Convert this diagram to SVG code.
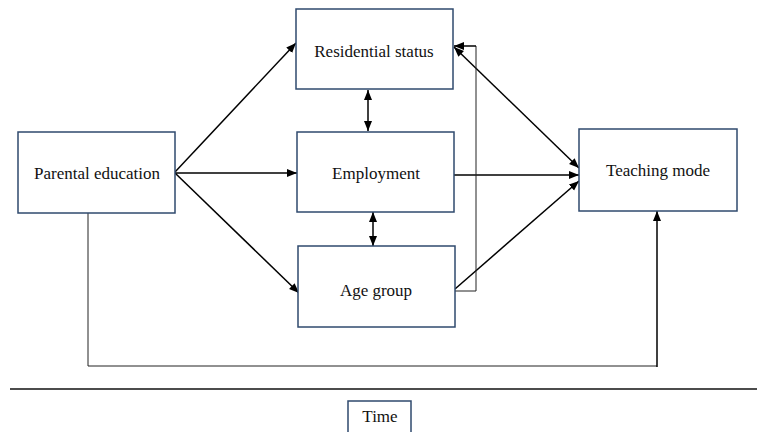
<svg xmlns="http://www.w3.org/2000/svg" width="757" height="432" viewBox="0 0 757 432">
<style>
.box{fill:#fff;stroke:#2f4a6e;stroke-width:1.5}
.lbl{font-family:"Liberation Serif","Times New Roman",serif;font-size:17px;fill:#111;text-anchor:middle}
.arr{stroke:#000;stroke-width:1.5;fill:none}
.thin{stroke:#222;stroke-width:1;fill:none}
</style>
<defs>
<marker id="ah" viewBox="0 0 10 10" refX="10" refY="5" markerWidth="10" markerHeight="10" markerUnits="userSpaceOnUse" orient="auto-start-reverse">
<path d="M0,1 L10,5 L0,9 Z" fill="#000"/>
</marker>
</defs>
<rect width="757" height="432" fill="#fff"/>
<g id="connectors">
<line class="arr" x1="175" y1="172" x2="296" y2="43" marker-end="url(#ah)"/>
<line class="arr" x1="175" y1="173" x2="297" y2="173" marker-end="url(#ah)"/>
<line class="arr" x1="175" y1="173" x2="299" y2="293" marker-end="url(#ah)"/>
<line class="arr" x1="454" y1="47" x2="579" y2="168" marker-start="url(#ah)" marker-end="url(#ah)"/>
<line class="arr" x1="454" y1="175" x2="579" y2="175" marker-end="url(#ah)"/>
<line class="arr" x1="455" y1="289" x2="579" y2="181" marker-end="url(#ah)"/>
<line class="arr" x1="368" y1="90" x2="368" y2="131" marker-start="url(#ah)" marker-end="url(#ah)"/>
<line class="arr" x1="373" y1="212" x2="373" y2="246" marker-start="url(#ah)" marker-end="url(#ah)"/>
<polyline class="thin" points="455,291 476,291 476,46"/>
<line class="arr" x1="476" y1="46" x2="454" y2="46" marker-end="url(#ah)"/>
<polyline class="thin" points="88,213 88,366 657,366"/>
<line class="arr" x1="657" y1="367" x2="657" y2="211" marker-end="url(#ah)"/>
<line x1="10" y1="389" x2="757" y2="389" stroke="#111" stroke-width="1.5"/>
</g>
<g id="residential">
<rect class="box" x="296" y="9" width="157" height="80"/>
<text class="lbl" x="374" y="57">Residential status</text>
</g>
<g id="employment">
<rect class="box" x="297" y="132" width="157" height="80"/>
<text class="lbl" x="376" y="179">Employment</text>
</g>
<g id="agegroup">
<rect class="box" x="298" y="246" width="157" height="81"/>
<text class="lbl" x="376" y="296">Age group</text>
</g>
<g id="parental">
<rect class="box" x="18" y="132" width="157" height="81"/>
<text class="lbl" x="97" y="179">Parental education</text>
</g>
<g id="teaching">
<rect class="box" x="579" y="129" width="158" height="82"/>
<text class="lbl" x="658" y="176">Teaching mode</text>
</g>
<g id="time">
<rect class="box" x="348" y="401" width="63" height="33"/>
<text class="lbl" x="380" y="422">Time</text>
</g>
</svg>
